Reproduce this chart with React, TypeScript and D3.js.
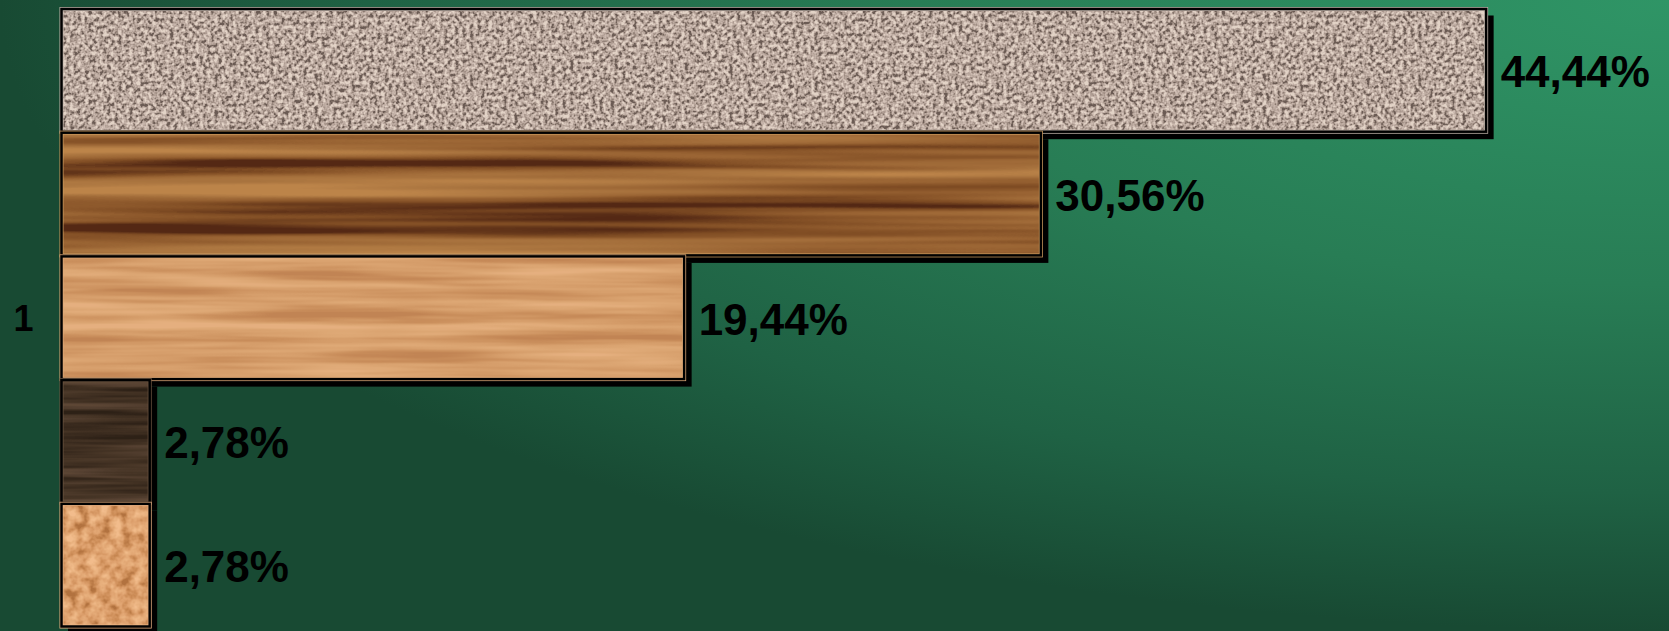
import React from "react";
import * as d3 from "d3";

const W = 1669;
const H = 631;

const categories = ["1"];
const seriesNames = ["Série 1", "Série 2", "Série 3", "Série 4", "Série 5"];
const seriesValues = [0.4444, 0.3056, 0.1944, 0.0278, 0.0278];

type Tex = {
  freq: string;
  octaves: number;
  seed: number;
  contrast: number;
  r: string;
  g: string;
  b: string;
  edge: string;
};

const textures: Tex[] = [
  { freq: "0.27", octaves: 2, seed: 4, contrast: 2.5, r: "0.42 0.61 0.73 0.81 0.89", g: "0.36 0.54 0.66 0.74 0.83", b: "0.33 0.5 0.62 0.7 0.78", edge: "#bfb2a8" },
  { freq: "0.001 0.05", octaves: 3, seed: 11, contrast: 2.2, r: "0.33 0.5 0.6 0.67 0.74", g: "0.16 0.3 0.39 0.46 0.52", b: "0.08 0.14 0.2 0.25 0.29", edge: "#c9985c" },
  { freq: "0.004 0.09", octaves: 3, seed: 23, contrast: 1.8, r: "0.76 0.8 0.84 0.87 0.9", g: "0.52 0.57 0.62 0.66 0.69", b: "0.33 0.37 0.42 0.46 0.5", edge: "#e0aa78" },
  { freq: "0.004 0.12", octaves: 3, seed: 7, contrast: 2.2, r: "0.18 0.23 0.28 0.33 0.37", g: "0.13 0.17 0.21 0.25 0.28", b: "0.09 0.12 0.15 0.19 0.21", edge: "#6b5440" },
  { freq: "0.09", octaves: 3, seed: 31, contrast: 1.8, r: "0.7 0.8 0.87 0.91 0.95", g: "0.45 0.55 0.63 0.69 0.74", b: "0.25 0.34 0.43 0.49 0.55", edge: "#e8b080" },
];

const locale = d3.formatLocale({ decimal: ",", thousands: ".", grouping: [3], currency: ["", "€"] });
const fmt = locale.format(".2%");

export default function App() {
  const margin = { left: 61, right: 4, top: 8.5, bottom: 4 };
  const x = d3.scaleLinear().domain([0, 0.5]).range([margin.left, W - margin.right]);
  const y = d3.scaleBand<string>().domain(seriesNames).range([margin.top, 627]).padding(0);
  const cat = d3.scaleBand<string>().domain(categories).range([margin.top, 627]);
  const shadow = 7;
  const labelSize = 44;
  const bw = y.bandwidth();

  return (
    <svg width={W} height={H} style={{ position: "absolute", left: 0, top: 0, display: "block" }}>
      <defs>
        <radialGradient id="bg" cx="1" cy="0" r="1" fx="1" fy="0" gradientUnits="objectBoundingBox">
          <stop offset="0" stopColor="#2f9566" />
          <stop offset="0.45" stopColor="#287d55" />
          <stop offset="0.78" stopColor="#1f6244" />
          <stop offset="1" stopColor="#184a33" />
        </radialGradient>
        {textures.map((t, i) => {
          const c = t.contrast;
          const off = -(c - 1) / 2;
          return (
            <filter key={i} id={`tex${i}`} x="0" y="0" width="1" height="1" filterUnits="objectBoundingBox" colorInterpolationFilters="sRGB">
              <feTurbulence type="fractalNoise" baseFrequency={t.freq} numOctaves={t.octaves} seed={t.seed} result="n" />
              <feColorMatrix
                in="n"
                type="matrix"
                values={`${c} 0 0 0 ${off}  ${c} 0 0 0 ${off}  ${c} 0 0 0 ${off}  0 0 0 0 1`}
                result="g"
              />
              <feComponentTransfer in="g" result="col">
                <feFuncR type="table" tableValues={t.r} />
                <feFuncG type="table" tableValues={t.g} />
                <feFuncB type="table" tableValues={t.b} />
              </feComponentTransfer>
              <feComposite in="col" in2="SourceGraphic" operator="in" />
            </filter>
          );
        })}
      </defs>
      <rect x={0} y={0} width={W} height={H} fill="url(#bg)" />

      {/* shadows */}
      {seriesNames.map((s, i) => (
        <rect
          key={`sh${i}`}
          x={x(0) + shadow}
          y={(y(s) as number) + shadow}
          width={x(seriesValues[i]) - x(0)}
          height={bw}
          fill="#000"
        />
      ))}

      {/* bars */}
      {seriesNames.map((s, i) => {
        const bx = x(0);
        const by = y(s) as number;
        const w = x(seriesValues[i]) - x(0);
        return (
          <g key={`b${i}`}>
            <rect x={bx} y={by} width={w} height={bw} fill="#fff" filter={`url(#tex${i})`} />
            <rect x={bx + 0.5} y={by + 0.5} width={w - 1} height={bw - 1} fill="none" stroke={textures[i].edge} strokeWidth={4} />
            <rect x={bx + 0.5} y={by + 0.5} width={w - 1} height={bw - 1} fill="none" stroke="#000" strokeWidth={2.5} />
          </g>
        );
      })}

      {/* data labels */}
      {seriesNames.map((s, i) => (
        <text
          key={`l${i}`}
          x={x(seriesValues[i]) + 14}
          y={(y(s) as number) + bw / 2 + 1 + labelSize * 0.358}
          fontFamily="'Liberation Sans', Arial, sans-serif"
          fontWeight="bold"
          fontSize={labelSize}
          fill="#000"
        >
          {fmt(seriesValues[i])}
        </text>
      ))}

      {/* category label */}
      {categories.map((c) => (
        <text
          key={c}
          x={23.5}
          y={(cat(c) as number) + cat.bandwidth() / 2 + 36 * 0.358}
          textAnchor="middle"
          fontFamily="'Liberation Sans', Arial, sans-serif"
          fontWeight="bold"
          fontSize={36}
          fill="#000"
        >
          {c}
        </text>
      ))}
    </svg>
  );
}
